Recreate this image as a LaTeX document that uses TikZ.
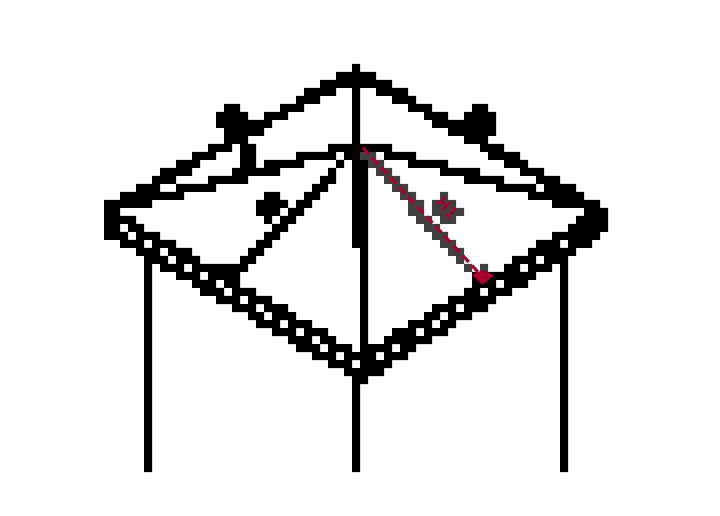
\documentclass[tikz,border=0pt]{standalone}
\usepackage{fontspec}
\setmainfont{Liberation Sans}
\definecolor{cellgray}{HTML}{404040}
\definecolor{dimred}{HTML}{A8002A}
\tikzset{
  blackcells/.style={fill=black},
  graycells/.style={fill=cellgray},
  dimline/.style={draw=dimred,line width=2.3pt,dash pattern=on 6.5pt off 3.5pt},
  dimtip/.style={fill=dimred},
  dimlabel/.style={text=dimred,font=\bfseries\fontsize{13}{13}\selectfont,inner sep=0pt,rotate=-47}
}
\begin{document}
\begin{tikzpicture}[x=6pt,y=-6pt]
\useasboundingbox[fill=white] (0,0) rectangle (90,64.5);
% frame and posts, drawn as runs of cells row/first/last
\path[blackcells] \foreach \r/\a/\b in {
8/44/44,
9/42/46,
10/40/48,
11/38/41,11/44/44,11/47/50,
12/37/39,12/44/44,12/49/51,
13/28/29,13/35/37,13/44/44,13/51/53,13/59/60,
14/27/30,14/33/35,14/44/44,14/53/55,14/58/61,
15/27/33,15/44/44,15/54/61,
16/28/32,16/44/44,16/56/61,
17/28/30,17/44/44,17/58/60,
18/26/28,18/30/31,18/41/48,18/60/62,
19/24/26,19/30/31,19/37/41,19/43/44,19/48/51,19/61/64,
20/22/24,20/30/31,20/33/37,20/42/42,20/44/45,20/51/55,20/63/65,
21/20/23,21/29/34,21/41/41,21/44/45,21/55/59,21/65/67,
22/19/21,22/26/30,22/40/41,22/44/45,22/58/62,22/67/69,
23/17/19,23/22/26,23/39/40,23/44/45,23/62/66,23/68/71,
24/15/22,24/33/34,24/38/39,24/44/45,24/66/72,
25/13/18,25/32/35,25/37/38,25/44/45,25/69/74,
26/13/14,26/32/34,26/36/37,26/44/45,26/73/75,
27/13/16,27/33/33,27/35/36,27/44/45,27/72/75,
28/13/14,28/16/17,28/34/35,28/44/45,28/71/75,
29/13/15,29/17/19,29/33/34,29/44/45,29/69/74,
30/15/17,30/19/21,30/32/33,30/44/45,30/67/69,30/71/73,
31/17/19,31/21/23,31/31/32,31/45/45,31/66/71,
32/18/20,32/22/24,32/30/31,32/45/45,32/64/66,32/68/70,
33/18/18,33/20/22,33/24/30,33/45/45,33/63/64,33/66/68,33/70/70,
34/18/18,34/22/24,34/26/29,34/45/45,34/59/66,34/70/70,
35/18/18,35/24/26,35/28/29,35/45/45,35/59/61,35/63/65,35/70/70,
36/18/18,36/25/27,36/29/31,36/45/45,36/58/59,36/61/63,36/70/70,
37/18/18,37/27/29,37/31/33,37/45/45,37/56/61,37/70/70,
38/18/18,38/29/31,38/33/35,38/45/45,38/54/56,38/58/60,38/70/70,
39/18/18,39/31/32,39/34/36,39/45/45,39/53/54,39/56/58,39/70/70,
40/18/18,40/32/34,40/36/38,40/45/45,40/51/53,40/55/56,40/70/70,
41/18/18,41/34/36,41/38/40,41/45/45,41/49/51,41/53/55,41/70/70,
42/18/18,42/36/38,42/40/41,42/45/45,42/48/53,42/70/70,
43/18/18,43/37/39,43/41/43,43/45/48,43/50/51,43/70/70,
44/18/18,44/39/41,44/43/46,44/48/50,44/70/70,
45/18/18,45/41/43,45/45/48,45/70/70,
46/18/18,46/43/47,46/70/70,
47/18/18,47/44/45,47/70/70,
48/18/18,48/44/44,48/70/70,
49/18/18,49/44/44,49/70/70,
50/18/18,50/44/44,50/70/70,
51/18/18,51/44/44,51/70/70,
52/18/18,52/44/44,52/70/70,
53/18/18,53/44/44,53/70/70,
54/18/18,54/44/44,54/70/70,
55/18/18,55/44/44,55/70/70,
56/18/18,56/44/44,56/70/70,
57/18/18,57/44/44,57/70/70,
58/18/18,58/44/44,58/70/70
} { (\a,\r) rectangle (\b+1,\r+1) };
% halo of the dimension line and of its label
\path[graycells] \foreach \r/\a/\b in {
19/45/46,20/46/47,21/47/48,22/48/49,23/49/50,24/50/51,25/51/52,26/51/52,
27/52/53,28/53/54,29/54/55,30/55/56,31/56/57,32/57/57,33/58/58,33/60/60,
24/55/55,25/54/56,26/54/57,27/55/56
} { (\a,\r) rectangle (\b+1,\r+1) };
% dimension
\coordinate (dimstart) at (45.4,18.5);
\coordinate (dimend) at (60.3,34.6);
\draw[dimline] (dimstart) -- (dimend);
\fill[dimtip] (59,34.3) -- (60.4,33.75) -- (61.8,34.4) -- (60.3,35.6) -- cycle;
\node[dimlabel] (dimtext) at (55.9,26) {H1};
\end{tikzpicture}
\end{document}
